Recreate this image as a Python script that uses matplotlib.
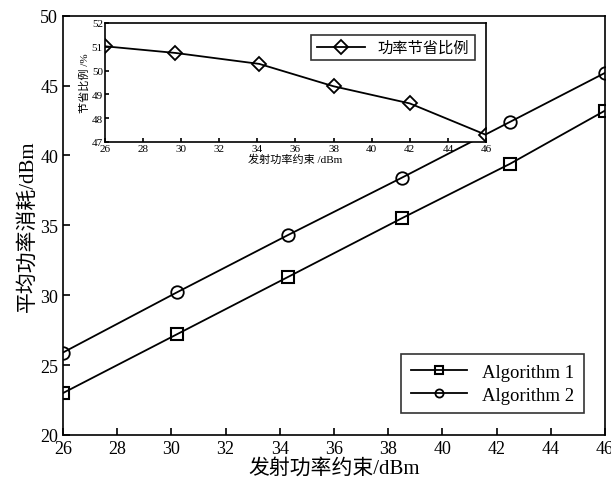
import matplotlib.pyplot as plt

plt.rcParams['font.family'] = ['Liberation Serif', 'Noto Sans CJK SC']
plt.rcParams['mathtext.fontset'] = 'stix'

# 主图数据
power_x = [26, 30.2, 34.3, 38.5, 42.5, 46]
alg1 = [23.0, 27.2, 31.3, 35.5, 39.4, 43.2]
alg2 = [25.9, 30.2, 34.3, 38.4, 42.4, 45.9]

# 插图数据
inset_x = [26, 29.7, 34.1, 38.0, 42.0, 46]
saving = [51.02, 50.74, 50.28, 49.34, 48.62, 47.3]

fig = plt.figure(figsize=(6.11, 4.89), dpi=100)
ax = fig.add_axes([0.1031, 0.1084, 0.8869, 0.8576])
ax.plot(power_x, alg1, '-s', color='black', lw=1.3, ms=8.5, mfc='none', mew=1.5, label='Algorithm 1')
ax.plot(power_x, alg2, '-o', color='black', lw=1.3, ms=9, mfc='none', mew=1.3, label='Algorithm 2')
ax.set_xlim(26, 46)
ax.set_ylim(20, 50)
ax.set_xticks(range(26, 47, 2))
ax.set_yticks(range(20, 51, 5))
ax.tick_params(direction='in', labelsize=13, length=5, width=1.2, top=False, right=False)
for s in ax.spines.values():
    s.set_linewidth(1.2)
ax.set_xlabel('发射功率约束/dBm', fontsize=15, labelpad=1)
ax.set_ylabel('平均功率消耗/dBm', fontsize=15, labelpad=2)
leg = ax.legend(loc='lower right', bbox_to_anchor=(0.978, 0.03), fontsize=13.5, frameon=True,
                fancybox=False, edgecolor='black', handlelength=3.0, borderpad=0.5, labelspacing=0.3,
                markerscale=0.65)
leg.get_frame().set_linewidth(1.2)

# 插图
ins = fig.add_axes([0.1718, 0.7076, 0.6236, 0.2434])
ins.plot(inset_x, saving, '-D', color='black', lw=1.3, ms=7, mfc='none', mew=1.3, label='功率节省比例')
ins.set_xlim(26, 46)
ins.set_ylim(47, 52)
ins.set_xticks(range(26, 47, 2))
ins.set_yticks(range(47, 53))
ins.tick_params(direction='in', labelsize=8, length=3, width=1.2, pad=1.5, top=False, right=False)
for s in ins.spines.values():
    s.set_linewidth(1.2)
ins.set_xlabel('发射功率约束 /dBm', fontsize=8, labelpad=0.5)
ins.set_ylabel('节省比例 /%', fontsize=8, labelpad=1.5)
leg2 = ins.legend(loc='upper right', bbox_to_anchor=(0.99, 0.96), fontsize=11, frameon=True,
                  fancybox=False, edgecolor='black', handlelength=3.2, borderpad=0.35)
leg2.get_frame().set_linewidth(1.2)

fig.savefig('out.png', dpi=100)
